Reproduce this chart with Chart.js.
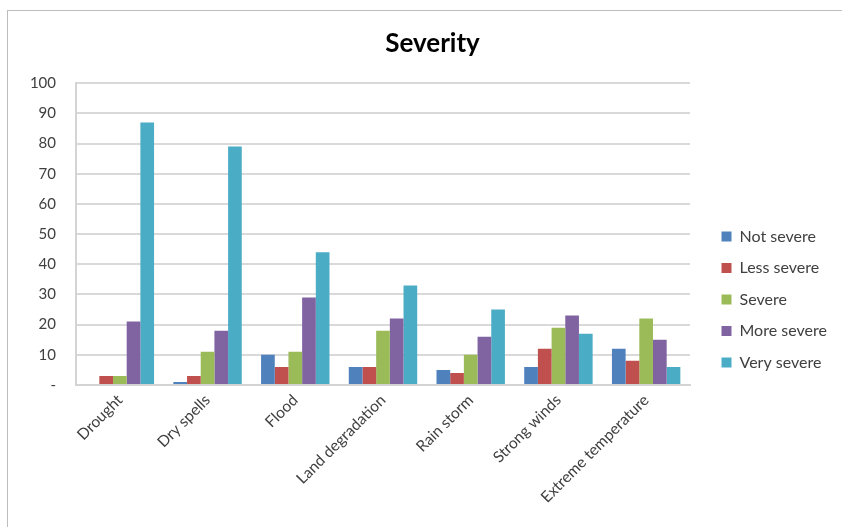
<!DOCTYPE html>
<html>
<head>
<meta charset="utf-8">
<script src="https://cdn.jsdelivr.net/npm/chart.js@4/dist/chart.umd.min.js"></script>
<style>
  html, body { margin: 0; padding: 0; background: #fff; overflow: hidden; width: 842px; height: 527px; }
  #wrap { position: absolute; left: 7px; top: 10px; width: 849px; height: 529px; border-left: 1px solid #bdbdbd; border-top: 1px solid #bdbdbd; }
  canvas { display: block; }
</style>
</head>
<body>
<div id="wrap"><canvas id="c" width="849" height="529"></canvas></div>
<script>
const categories = ["Drought", "Dry spells", "Flood", "Land degradation", "Rain storm", "Strong winds", "Extreme temperature"];
const seriesNames = ["Not severe", "Less severe", "Severe", "More severe", "Very severe"];
const notSevere  = [0, 1, 10, 6, 5, 6, 12];
const lessSevere = [3, 3, 6, 6, 4, 12, 8];
const severe     = [3, 11, 11, 18, 10, 19, 22];
const moreSevere = [21, 18, 29, 22, 16, 23, 15];
const verySevere = [87, 79, 44, 33, 25, 17, 6];
const seriesColors = ["#4F81BD", "#C0504D", "#9BBB59", "#8064A2", "#4BACC6"];
const yTickLabels = { 0: "-", 10: "10", 20: "20", 30: "30", 40: "40", 50: "50", 60: "60", 70: "70", 80: "80", 90: "90", 100: "100" };
const titleText = "Severity";

const seriesValues = [notSevere, lessSevere, severe, moreSevere, verySevere];
const FONT = "Lato, 'Open Sans', sans-serif";

const legendFix = {
  id: "legendFix",
  afterInit(chart) {
    const lg = chart.legend;
    if (!lg) return;
    const origFit = lg.fit.bind(lg);
    lg.fit = function () { origFit(); this.width = 167; this.minSize = { width: 167, height: this.height }; };
  },
  afterLayout(chart) {
    const lg = chart.legend;
    if (lg) { lg.left += 16; lg.right += 16; lg.top += 24; lg.bottom += 24; }
  }
};

new Chart(document.getElementById("c"), {
  type: "bar",
  data: {
    labels: categories,
    datasets: seriesNames.map((n, i) => ({
      label: n,
      data: seriesValues[i],
      backgroundColor: seriesColors[i],
      borderWidth: 0,
      barPercentage: 1.0,
      categoryPercentage: 0.78
    }))
  },
  plugins: [legendFix],
  options: {
    responsive: false,
    animation: false,
    layout: { padding: { left: 0, right: 0, top: 0, bottom: 0 } },
    plugins: {
      title: {
        display: true,
        text: titleText,
        color: "#000",
        font: { family: FONT, size: 26, weight: "bold" },
        padding: { top: 17, bottom: 24 }
      },
      legend: {
        position: "right",
        align: "center",
        labels: {
          boxWidth: 10,
          boxHeight: 10,
          padding: 15.5,
          color: "#404040",
          font: { family: FONT, size: 16 }
        }
      },
      tooltip: { enabled: false }
    },
    scales: {
      x: {
        grid: { display: false, drawTicks: false },
        border: { display: true, color: "#d4d4d4", width: 2 },
        ticks: {
          color: "#404040",
          font: { family: FONT, size: 15.5 },
          maxRotation: 45,
          minRotation: 45,
          padding: 6,
          autoSkip: false
        },
        afterFit(s) { s.height = 155; }
      },
      y: {
        min: 0,
        max: 100,
        grid: { color: "#d9d9d9", lineWidth: 2, drawTicks: false },
        border: { display: true, color: "#d4d4d4", width: 2 },
        ticks: {
          stepSize: 10,
          color: "#404040",
          font: { family: FONT, size: 15 },
          padding: 20,
          callback: (v) => yTickLabels[v] !== undefined ? yTickLabels[v] : ""
        },
        afterFit(s) { s.width = 68; }
      }
    }
  }
});
</script>
</body>
</html>
